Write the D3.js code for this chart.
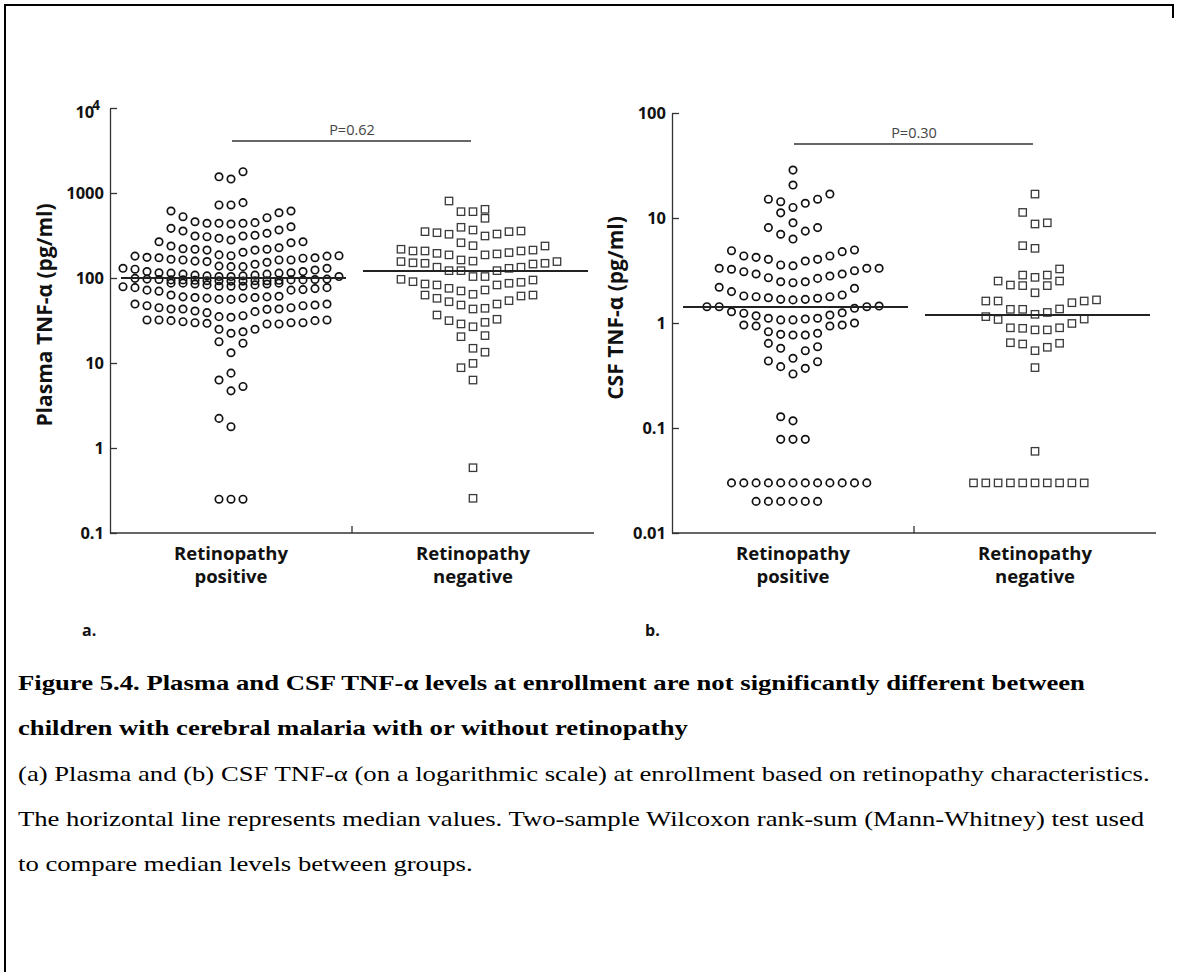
<!DOCTYPE html>
<html><head><meta charset="utf-8">
<script src="https://cdn.jsdelivr.net/npm/d3@7"></script>
<style>body{margin:0;background:#fff}svg{display:block}</style>
</head><body>
<svg id="fig" width="1186" height="972"></svg>
<script>
// Group names (drawn on two lines each)
const categories = ["Retinopathy positive", "Retinopathy negative"];
const categoryLines = [["Retinopathy", "positive"], ["Retinopathy", "negative"]];

// Each row: [first slot relative to the group centre, values left to right (null = empty slot)]
const plasmaPositive = [
  [-1, [1550, 1460, 1780]],
  [-1, [723, 723, 770]],
  [-5, [614, 526, 459, 440, 440, 432, 440, 448, 512, 586, 614]],
  [-5, [384, 357, 312, 306, 293, 280, 312, 318, 336, 367, 401]],
  [-6, [267, 238, 221, 218, 213, 187, 183, 201, 213, 218, 227, 260, 267]],
  [-8, [181, 175, 173, 166, 163, 158, 156, 138, 136, 136, 145, 153, 163, 163, 171, 173, 181, 183]],
  [-9, [130, 127, 119, 115, 114, 111, 108, 106, 104, 104, 106, 108, 111, 114, 115, 119, 124, 130]],
  [-8, [99, 97, 96, 95, 95, 94, 93, 93, 92, 92, 93, 93, 94, 95, 95, 96, 97, 104]],
  [-9, [79, 77, 72, 70, 87, 87, 85, 83, 80, 80, 80, 83, 85, 87, 72, 73, 75, 77]],
  [-5, [63, 60, 59, 58, 56, 56, 58, 59, 60, 61]],
  [-8, [49.4, 47.2, 44.7, 43.2, 43.2, 40.9, 39.1, 35.1, 34.5, 36, 40.2, 42.8, 43.2, 44.7, 47.2, 48.1, 49.4]],
  [-7, [32.1, 32.1, 31.5, 30.6, 29.8, 29.3, 24.9, 22.4, 23.3, 24.9, 28.8, 28.8, 29.8, 29.8, 31.5, 32.1]],
  [-1, [17.8, null, 17.1]],
  [0, [13.2]],
  [0, [7.6]],
  [-1, [6.3, null, 5.3]],
  [0, [4.7]],
  [-1, [2.23, 1.78]],
  [-1, [0.25, 0.25, 0.25]]
];
const plasmaNegative = [
  [-2, [805]],
  [-1, [603, 603, 643]],
  [1, [504]],
  [-4, [351, 341, 327, 395, 367, 312, 329, 351, 357]],
  [-1, [260, 240]],
  [-6, [218, 208, 208, 195, 187, 163, 158, 187, 192, 199, 208, 213, 238]],
  [-6, [156, 151, 149, 134, 122, 122, 104, 104, 122, 130, 134, 146, 149, 156]],
  [-6, [96.5, 90.5, 85, 82.8, 75.6, 70.4, 64.3, 72.3, 82.8, 86.7, 89, 94.7]],
  [-4, [63, 57.7, 52.6, 48.1, 43.2, 44, 49.4, 54.1, 61.4, 63]],
  [-3, [36.7, 31.5, 28.8, 26.7, 30.1, 32.7]],
  [-1, [20.4, null, 21]],
  [0, [14.9, 13.4]],
  [0, [9.9]],
  [-1, [8.8]],
  [0, [6.3]],
  [0, [0.586]],
  [0, [0.256]]
];
const csfPositive = [
  [0, [28.6]],
  [0, [20.6]],
  [-2, [15.1, 14.3, 12.6, 13.8, 15.1, 16.9]],
  [-1, [11.2]],
  [0, [9.0]],
  [-2, [8.1, 7.0, 6.3, 7.5, 8.1]],
  [-5, [4.88, 4.35, 4.22, 4.04, 3.57, 3.51, 3.89, 4.04, 4.35, 4.78, 4.96]],
  [-6, [3.32, 3.25, 3.08, 2.93, 2.7, 2.47, 2.42, 2.47, 2.66, 2.8, 2.93, 3.15, 3.32, 3.32]],
  [-6, [2.19, 1.99, 1.81, 1.78, 1.74, 1.68, 1.66, 1.68, 1.72, 1.78, 1.85, 2.14]],
  [-7, [1.43, 1.43, 1.28, 1.24, 1.17, 1.11, 1.07, 1.07, 1.09, 1.11, 1.19, 1.25, 1.38, 1.43, 1.45]],
  [-4, [0.957, 0.936, null, null, null, null, null, 0.936, 0.957, 1.0]],
  [-2, [0.826, 0.78, 0.769, 0.769, 0.798]],
  [-2, [0.64, 0.574, null, 0.545, 0.595]],
  [0, [0.461]],
  [-2, [0.435, 0.384, 0.327, 0.37, 0.428]],
  [-1, [0.128, 0.117]],
  [-1, [0.078, 0.078, 0.078]],
  [-5, [0.03, 0.03, 0.03, 0.03, 0.03, 0.03, 0.03, 0.03, 0.03, 0.03, 0.03, 0.03]],
  [-3, [0.02, 0.02, 0.02, 0.02, 0.02, 0.02]]
];
const csfNegative = [
  [0, [16.9]],
  [-1, [11.3]],
  [0, [8.77, 9.0]],
  [-1, [5.45, 5.14]],
  [-1, [2.86, 2.72, 2.86, 3.27]],
  [-3, [2.51, 2.3, 2.27, null, 2.27, 2.51]],
  [0, [1.94]],
  [-4, [1.62, 1.62, 1.35, 1.35, 1.21, 1.26, 1.36, 1.56, 1.62, 1.66]],
  [-4, [1.15, 1.08]],
  [3, [0.99, 1.09]],
  [-2, [0.90, 0.89, 0.86, 0.86, 0.90]],
  [-2, [0.649, 0.631, 0.545, 0.587, 0.641]],
  [0, [0.376]],
  [0, [0.06]],
  [-5, [0.03, 0.03, 0.03, 0.03, 0.03, 0.03, 0.03, 0.03, 0.03, 0.03]]
];

const plasmaMedians = [100, 121];
const csfMedians = [1.42, 1.19];
const pLabels = ["P=0.62", "P=0.30"];

const plasmaTicks = [0.1, 1, 10, 100, 1000, 10000];
const plasmaTickLabels = ["0.1", "1", "10", "100", "1000", "10|4"];
const csfTicks = [0.01, 0.1, 1, 10, 100];
const csfTickLabels = ["0.01", "0.1", "1", "10", "100"];

const captionTitle = [
  "Figure 5.4. Plasma and CSF TNF-α levels at enrollment are not significantly different between",
  "children with cerebral malaria with or without retinopathy"
];
const captionBody = [
  "(a) Plasma and (b) CSF TNF-α (on a logarithmic scale) at enrollment based on retinopathy characteristics.",
  "The horizontal line represents median values. Two-sample Wilcoxon rank-sum (Mann-Whitney) test used",
  "to compare median levels between groups."
];

const svg = d3.select("#fig");
svg.append("rect").attr("width", 1186).attr("height", 972).attr("fill", "#fff");

// page frame
svg.append("path").attr("d", "M5,972V5H1173V18")
  .attr("fill", "none").attr("stroke", "#000").attr("stroke-width", 2);

const chartFont = "'Open Sans', 'Noto Sans', sans-serif";

function drawPanel(cfg) {
  const g = svg.append("g").attr("font-family", chartFont);
  const y = d3.scaleLog().domain(cfg.domain).range([533, cfg.top]);
  const x = d3.scaleBand().domain(categories).range([cfg.left, cfg.left + 484]);
  const slot = d3.scaleLinear().domain([0, 1]).range([0, cfg.step]);
  const centre = c => x(c) + x.bandwidth() / 2;

  // y axis, ticks pointing into the plot
  const axis = d3.axisLeft(y).tickValues(cfg.ticks).tickSizeInner(-7).tickSizeOuter(0)
    .tickPadding(6).tickFormat((d, i) => cfg.tickLabels[i]);
  const ag = g.append("g").attr("transform", `translate(${cfg.left},0)`).call(axis);
  ag.select(".domain").attr("stroke", "#333").attr("stroke-width", 1.3);
  ag.selectAll(".tick line").attr("stroke", "#333").attr("stroke-width", 1.3);
  ag.selectAll(".tick text").attr("font-size", 16.5).attr("font-weight", 700)
    .attr("fill", "#111").attr("font-family", chartFont)
    .each(function (d, i) {
      const lab = cfg.tickLabels[i];
      if (lab.includes("|")) {
        const [base, sup] = lab.split("|");
        const t = d3.select(this).text(null).attr("dy", "0.6em").attr("x", -10);
        t.append("tspan").text(base);
        t.append("tspan").text(sup).attr("dx", -2).attr("dy", "-0.65em").attr("font-size", 13.5);
      }
    });

  // x axis with a divider tick between the groups
  g.append("line").attr("x1", x.range()[0]).attr("x2", x.range()[1])
    .attr("y1", 533).attr("y2", 533).attr("stroke", "#333").attr("stroke-width", 1.3);
  g.append("line").attr("x1", x(categories[1])).attr("x2", x(categories[1]))
    .attr("y1", 533).attr("y2", 526).attr("stroke", "#333").attr("stroke-width", 1.3);

  categories.forEach((c, i) => {
    const t = g.append("text").attr("x", centre(c)).attr("y", 560)
      .attr("text-anchor", "middle").attr("font-size", 18.5).attr("font-weight", 700).attr("fill", "#111");
    categoryLines[i].forEach((ln, k) => t.append("tspan").attr("x", centre(c)).attr("dy", k ? 23 : 0).text(ln));
  });

  // y axis title
  g.append("text").attr("transform", `translate(${cfg.titleX},${cfg.titleY}) rotate(-90)`)
    .attr("text-anchor", "middle").attr("dominant-baseline", "central")
    .attr("font-size", 21).attr("font-weight", 700).attr("fill", "#111").text(cfg.title);

  // dots
  cfg.groups.forEach((rows, gi) => {
    const cx0 = centre(categories[gi]);
    const pts = [];
    rows.forEach(([start, vals]) => vals.forEach((v, k) => {
      if (v !== null) pts.push({ x: cx0 + slot(start + k), v });
    }));
    if (gi === 0) {
      g.append("g").selectAll("circle").data(pts).join("circle")
        .attr("cx", d => d.x).attr("cy", d => y(d.v)).attr("r", 3.7)
        .attr("fill", "none").attr("stroke", "#111").attr("stroke-width", 1.7);
    } else {
      g.append("g").selectAll("rect").data(pts).join("rect")
        .attr("x", d => d.x - 3.7).attr("y", d => y(d.v) - 3.7).attr("width", 7.4).attr("height", 7.4)
        .attr("fill", "none").attr("stroke", "#3a3a3a").attr("stroke-width", 1.3);
    }
  });

  // medians
  cfg.medians.forEach((m, gi) => {
    const c = centre(categories[gi]);
    g.append("line").attr("x1", c - 110).attr("x2", c + 115).attr("y1", y(m)).attr("y2", y(m))
      .attr("stroke", "#222").attr("stroke-width", 2);
  });

  // significance bar
  const pc = x(categories[1]);
  g.append("line").attr("x1", centre(categories[0]) + 1).attr("x2", centre(categories[1]) - 2)
    .attr("y1", cfg.pY).attr("y2", cfg.pY).attr("stroke", "#333").attr("stroke-width", 1.3);
  g.append("text").attr("x", pc).attr("y", cfg.pY - 6).attr("text-anchor", "middle")
    .attr("font-size", 14.5).attr("fill", "#444").text(cfg.p);

  g.append("text").attr("x", cfg.letterX).attr("y", 636).attr("font-size", 16)
    .attr("font-weight", 700).attr("fill", "#111").text(cfg.letter);
}

drawPanel({
  domain: [0.1, 10000], top: 108, left: 110, step: 12,
  ticks: plasmaTicks, tickLabels: plasmaTickLabels,
  groups: [plasmaPositive, plasmaNegative], medians: plasmaMedians,
  title: "Plasma TNF-α (pg/ml)", titleX: 44, titleY: 315,
  p: pLabels[0], pY: 141, letter: "a.", letterX: 82
});
drawPanel({
  domain: [0.01, 100], top: 113, left: 672, step: 12.3,
  ticks: csfTicks, tickLabels: csfTickLabels,
  groups: [csfPositive, csfNegative], medians: csfMedians,
  title: "CSF TNF-α (pg/ml)", titleX: 615, titleY: 308,
  p: pLabels[1], pY: 144, letter: "b.", letterX: 645
});

// caption, set in a widened serif
const cap = svg.append("g").attr("transform", "translate(18,0) scale(1.27,1)")
  .attr("font-family", "'Liberation Serif', 'Times New Roman', serif").attr("fill", "#000");
captionTitle.forEach((t, i) => cap.append("text").attr("x", 0).attr("y", 690 + i * 45)
  .attr("font-size", 21).attr("font-weight", 700).text(t));
captionBody.forEach((t, i) => cap.append("text").attr("x", 0).attr("y", 781 + i * 45)
  .attr("font-size", 21).text(t));
</script>
</body></html>
